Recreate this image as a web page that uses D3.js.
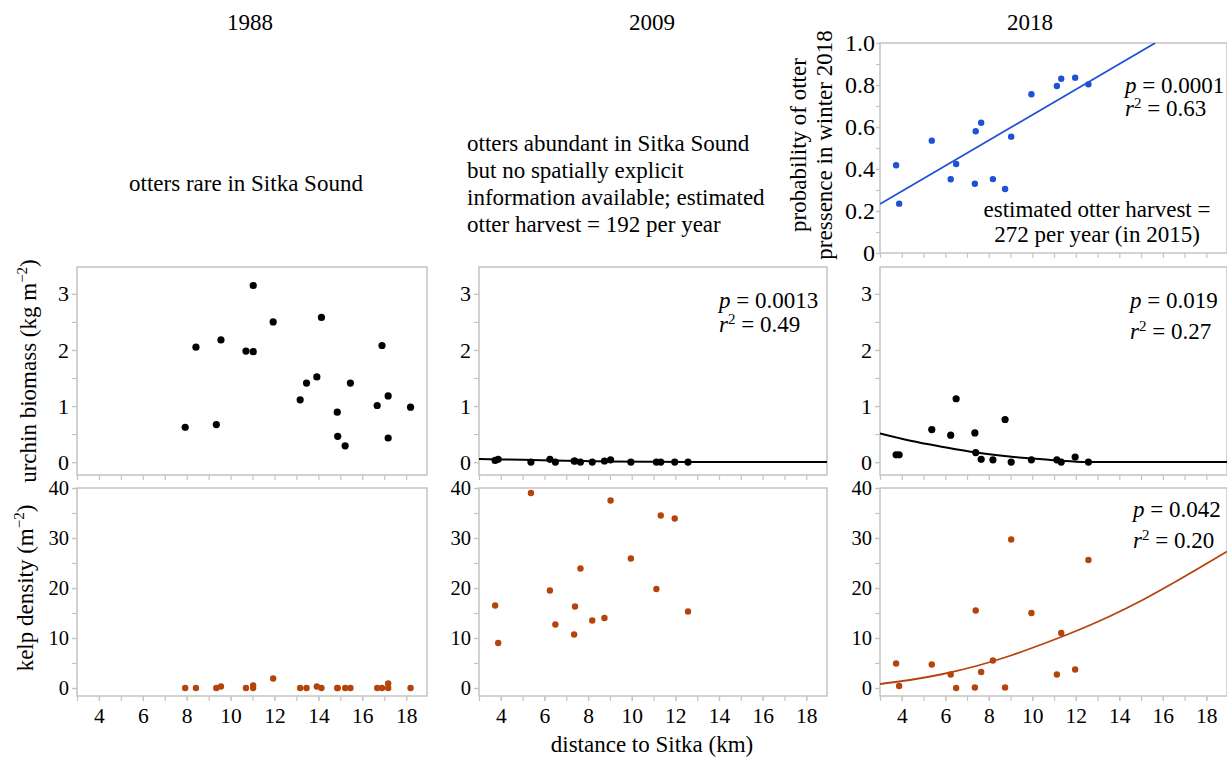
<!DOCTYPE html>
<html>
<head>
<meta charset="utf-8">
<script src="https://cdn.jsdelivr.net/npm/d3@7"></script>
<style>
  body { margin: 0; background: #fff; }
  svg text { font-family: "Liberation Serif", "Times New Roman", serif; fill: #000; }
</style>
</head>
<body>
<script>
// ---- data ----
// 1988 survey sites (km from Sitka)
var dist1988 = [7.93, 8.42, 9.35, 9.56, 10.7, 11.03, 11.03, 11.94, 13.17, 13.46, 13.93,
  14.14, 14.86, 14.88, 15.22, 15.46, 16.68, 16.9, 17.18, 17.18, 18.2];
var urchin1988 = [0.62, 2.05, 0.67, 2.18, 1.98, 1.97, 3.15, 2.50, 1.11, 1.41, 1.52,
  2.58, 0.89, 0.46, 0.29, 1.41, 1.01, 2.08, 1.18, 0.43, 0.98];
var kelp1988 = [0, 0, 0, 0.3, 0, 0.5, 0, 1.9, 0, 0, 0.3,
  0, 0, 0, 0, 0, 0, 0, 0.9, 0, 0];

// 2009 / 2018 survey sites
var distSites = [3.74, 3.88, 5.38, 6.25, 6.5, 7.36, 7.4, 7.65, 8.19, 8.75, 9.03,
  9.96, 11.13, 11.33, 11.97, 12.58];
var urchin2009 = [0.03, 0.05, 0, 0.05, 0, 0.02, 0.02, 0, 0, 0.02, 0.04, 0, 0, 0, 0, 0];
var kelp2009 = [16.5, 9.0, 39.0, 19.5, 12.7, 10.7, 16.3, 23.9, 13.5, 14.0, 37.5,
  25.9, 19.8, 34.5, 33.9, 15.3];
var urchin2018 = [0.13, 0.13, 0.58, 0.48, 1.13, 0.52, 0.17, 0.05, 0.04, 0.76, 0,
  0.04, 0.04, 0, 0.09, 0];
var kelp2018 = [4.9, 0.4, 4.7, 2.7, 0, 0.1, 15.5, 3.2, 5.5, 0.1, 29.7,
  15.0, 2.7, 11.0, 3.7, 25.6];
var otterProb2018 = [0.418, 0.235, 0.535, 0.351, 0.424, 0.33, 0.58, 0.62, 0.352, 0.305, 0.554,
  0.756, 0.795, 0.83, 0.835, 0.803];

// fitted curves, sampled off the figure
var probFitX = [3.0, 15.65];
var probFitY = [0.233, 1.0];
var urchinFit2009X = [3.0, 5, 7, 9, 11, 13, 18.95];
var urchinFit2009Y = [0.055, 0.04, 0.025, 0.012, 0.005, 0, 0];
var urchinFit2018X = [3.0, 4.4, 5.9, 7.43, 8.95, 10.48, 12.9, 18.95];
var urchinFit2018Y = [0.51, 0.38, 0.27, 0.17, 0.10, 0.05, 0, 0];
var kelpFit2018X = [3.0, 4.37, 5.9, 7.43, 8.95, 10.48, 12.01, 13.54, 15.07, 16.6, 18.95];
var kelpFit2018Y = [0.8, 1.6, 2.8, 4.4, 6.4, 8.8, 11.4, 14.3, 17.6, 21.3, 27.3];

// ticks
var xMajor = [4, 6, 8, 10, 12, 14, 16, 18];
var xMinor = d3.range(3, 19, 1);
var urchinMajor = [0, 1, 2, 3];
var urchinMinor = [0, 0.5, 1, 1.5, 2, 2.5, 3];
var kelpMajor = [0, 10, 20, 30, 40];
var kelpMinor = [0, 5, 10, 15, 20, 25, 30, 35, 40];
var probMajor = [0, 0.2, 0.4, 0.6, 0.8, 1.0];
var probMinor = d3.range(0, 11).map(function( i ) { return i / 10; });

// ---- layout ----
var width = 1227, height = 757;
var cols = [ [ 77, 427 ], [ 479, 827 ], [ 880, 1227 ] ];
var rows = { prob: [ 43, 253 ], urchin: [ 267, 475 ], kelp: [ 488, 696 ] };
var xDomain = [ 3, 18.95 ];
var frameColor = "#c4c4c4";
var kelpColor = "#b5440c";
var blueColor = "#1f50d8";
var textSize = 23;

var svg = d3.select( "body" ).append( "svg" )
  .attr( "width", width ).attr( "height", height );

var clipId = 0;

function styleAxis( g, fontSize ) {
  g.select( ".domain" ).remove();
  g.selectAll( ".tick line" ).attr( "stroke", frameColor ).attr( "stroke-width", 1.2 );
  g.selectAll( ".tick text" ).style( "font-size", fontSize + "px" ).attr( "fill", "#000" );
}

function makePanel( col, row, yDomain, opts ) {
  var x = d3.scaleLinear().domain( xDomain ).range( col );
  var y = d3.scaleLinear().domain( yDomain ).range( [ row[ 1 ], row[ 0 ] ] );
  var g = svg.append( "g" );

  // x ticks
  g.append( "g" ).attr( "transform", "translate(0," + row[ 1 ] + ")" )
    .call( d3.axisBottom( x ).tickValues( xMinor ).tickSize( 5 ).tickFormat( "" ) )
    .call( styleAxis, 21 );
  if( opts.xLabels ) {
    g.append( "g" ).attr( "transform", "translate(0," + row[ 1 ] + ")" )
      .call( d3.axisBottom( x ).tickValues( xMajor ).tickSize( 5 ).tickPadding( 7 ) )
      .call( styleAxis, 21.5 );
  }

  // y ticks
  g.append( "g" ).attr( "transform", "translate(" + col[ 0 ] + ",0)" )
    .call( d3.axisLeft( y ).tickValues( opts.yMinor ).tickSize( opts.tickSize ).tickFormat( "" ) )
    .call( styleAxis, opts.yFont );
  g.append( "g" ).attr( "transform", "translate(" + col[ 0 ] + ",0)" )
    .call( d3.axisLeft( y ).tickValues( opts.yMajor ).tickSize( opts.tickSize )
      .tickPadding( opts.tickPadding ).tickFormat( opts.yFormat ) )
    .call( styleAxis, opts.yFont );

  g.append( "rect" )
    .attr( "x", col[ 0 ] ).attr( "y", row[ 0 ] )
    .attr( "width", col[ 1 ] - col[ 0 ] ).attr( "height", row[ 1 ] - row[ 0 ] )
    .attr( "fill", "none" ).attr( "stroke", frameColor ).attr( "stroke-width", 1.5 );

  var id = "clip" + ( clipId++ );
  svg.append( "clipPath" ).attr( "id", id ).append( "rect" )
    .attr( "x", col[ 0 ] ).attr( "y", row[ 0 ] )
    .attr( "width", col[ 1 ] - col[ 0 ] ).attr( "height", row[ 1 ] - row[ 0 ] );
  var plot = g.append( "g" ).attr( "clip-path", "url(#" + id + ")" );

  return { g: g, plot: plot, x: x, y: y };
}

function drawCurve( p, xs, ys, color, widthPx ) {
  var pts = xs.map( function( v, i ) { return [ v, ys[ i ] ]; } );
  var line = d3.line()
    .x( function( d ) { return p.x( d[ 0 ] ); } )
    .y( function( d ) { return p.y( d[ 1 ] ); } )
    .curve( d3.curveMonotoneX );
  p.plot.append( "path" ).attr( "d", line( pts ) )
    .attr( "fill", "none" ).attr( "stroke", color ).attr( "stroke-width", widthPx );
}

function drawDots( p, xs, ys, color, r ) {
  p.plot.selectAll( null ).data( xs ).enter().append( "circle" )
    .attr( "cx", function( d ) { return p.x( d ); } )
    .attr( "cy", function( d, i ) { return p.y( ys[ i ] ); } )
    .attr( "r", r ).attr( "fill", color );
}

function statText( xPos, yP, yR, pText, rText ) {
  var t1 = svg.append( "text" ).attr( "x", xPos ).attr( "y", yP ).style( "font-size", textSize + "px" );
  t1.append( "tspan" ).style( "font-style", "italic" ).text( "p" );
  t1.append( "tspan" ).text( " = " + pText );
  var t2 = svg.append( "text" ).attr( "x", xPos ).attr( "y", yR ).style( "font-size", textSize + "px" );
  t2.append( "tspan" ).style( "font-style", "italic" ).text( "r" );
  t2.append( "tspan" ).attr( "dy", -8 ).style( "font-size", "15px" ).text( "2" );
  t2.append( "tspan" ).attr( "dy", 8 ).text( " = " + rText );
}

var urchinOpts = { yMajor: urchinMajor, yMinor: urchinMinor, yFormat: d3.format( "d" ),
  yFont: 22, tickSize: 5, tickPadding: 3 };
var kelpOpts = { yMajor: kelpMajor, yMinor: kelpMinor, yFormat: d3.format( "d" ),
  yFont: 20.5, tickSize: 5, tickPadding: 3, xLabels: true };
var probOpts = { yMajor: probMajor, yMinor: probMinor,
  yFormat: function( d ) { return d === 0 ? "0" : d3.format( ".1f" )( d ); },
  yFont: 24, tickSize: 4, tickPadding: 1 };

var urchinDomain = [ -0.23, 3.48 ];
var kelpDomain = [ -1.6, 40 ];

// 1988
var u88 = makePanel( cols[ 0 ], rows.urchin, urchinDomain, urchinOpts );
drawDots( u88, dist1988, urchin1988, "#000", 3.6 );
var k88 = makePanel( cols[ 0 ], rows.kelp, kelpDomain, kelpOpts );
drawDots( k88, dist1988, kelp1988, kelpColor, 3.2 );

// 2009
var u09 = makePanel( cols[ 1 ], rows.urchin, urchinDomain, urchinOpts );
drawCurve( u09, urchinFit2009X, urchinFit2009Y, "#000", 2 );
drawDots( u09, distSites, urchin2009, "#000", 3.6 );
var k09 = makePanel( cols[ 1 ], rows.kelp, kelpDomain, kelpOpts );
drawDots( k09, distSites, kelp2009, kelpColor, 3.2 );

// 2018
var p18 = makePanel( cols[ 2 ], rows.prob, [ 0, 1 ], probOpts );
drawCurve( p18, probFitX, probFitY, blueColor, 1.8 );
drawDots( p18, distSites, otterProb2018, blueColor, 3.2 );
var u18 = makePanel( cols[ 2 ], rows.urchin, urchinDomain, urchinOpts );
drawCurve( u18, urchinFit2018X, urchinFit2018Y, "#000", 2 );
drawDots( u18, distSites, urchin2018, "#000", 3.6 );
var k18 = makePanel( cols[ 2 ], rows.kelp, kelpDomain, kelpOpts );
drawCurve( k18, kelpFit2018X, kelpFit2018Y, kelpColor, 1.8 );
drawDots( k18, distSites, kelp2018, kelpColor, 3.2 );

// ---- text ----
function label( x, y, txt, anchor, size ) {
  return svg.append( "text" ).attr( "x", x ).attr( "y", y )
    .attr( "text-anchor", anchor || "middle" )
    .style( "font-size", ( size || textSize ) + "px" ).text( txt );
}

label( 250, 30, "1988" );
label( 652, 30, "2009" );
label( 1030, 30, "2018" );

label( 246, 191, "otters rare in Sitka Sound" );
[ "otters abundant in Sitka Sound", "but no spatially explicit",
  "information available; estimated", "otter harvest = 192 per year" ]
  .forEach( function( s, i ) { label( 467, 151 + i * 27, s, "start" ); } );

label( 1097, 217, "estimated otter harvest =" );
label( 1097, 242, "272 per year (in 2015)" );

statText( 1125, 93, 116, "0.0001", "0.63" );
statText( 719, 308, 332, "0.0013", "0.49" );
statText( 1130, 308, 339, "0.019", "0.27" );
statText( 1133, 517, 548, "0.042", "0.20" );

label( 652, 752, "distance to Sitka (km)" );

function rotLabel( x, y, parts ) {
  var t = svg.append( "text" ).attr( "transform", "translate(" + x + "," + y + ") rotate(-90)" )
    .attr( "text-anchor", "middle" ).style( "font-size", textSize + "px" );
  parts.forEach( function( p ) {
    var s = t.append( "tspan" ).text( p.t );
    if( p.sup ) { s.style( "font-size", "15px" ).attr( "dy", -9 ); }
    if( p.down ) { s.attr( "dy", 9 ); }
  } );
  return t;
}

rotLabel( 36, 371, [ { t: "urchin biomass (kg m" }, { t: "\u22122", sup: true }, { t: ")", down: true } ] );
rotLabel( 33, 588, [ { t: "kelp density (m" }, { t: "\u22122", sup: true }, { t: ")", down: true } ] );
rotLabel( 806, 145, [ { t: "probability of otter" } ] );
rotLabel( 832, 145, [ { t: "pressence in winter 2018" } ] );
</script>
</body>
</html>
